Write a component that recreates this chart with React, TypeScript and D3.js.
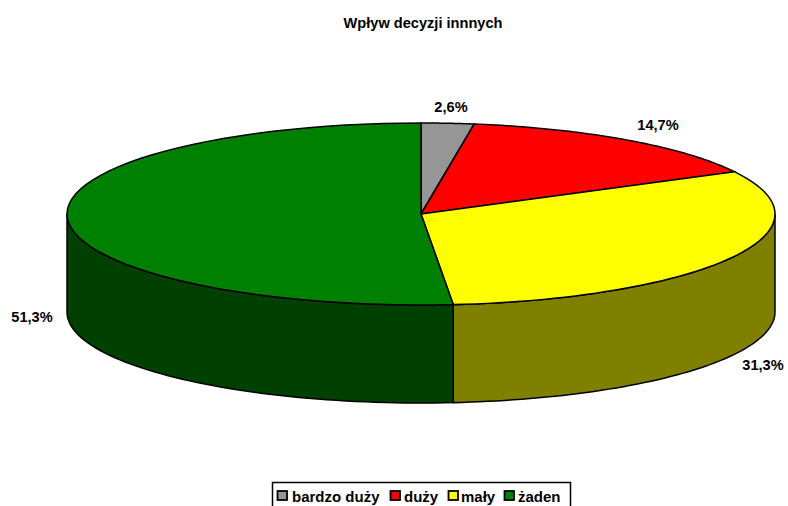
import React from "react";
import * as d3 from "d3";

const categories = ["bardzo duży", "duży", "mały", "żaden"];
const sliceShares = [2.4, 14.9, 31.25, 51.45];
const labels = ["2,6%", "14,7%", "31,3%", "51,3%"];
const topColors = ["#969696", "#ff0000", "#ffff00", "#008000"];
const sideColors = ["#4b4b4b", "#800000", "#808000", "#004000"];
const title = "Wpływ decyzji innnych";
const labelPos: [number, number][] = [[451, 107], [658, 125], [763, 365], [32, 317]];

const cx = 421, cy = 214, rx = 354, ry = 91, depth = 98;
const FONT = "'Liberation Sans', Arial, sans-serif";

const pie = d3.pie<number>().sort(null).value(d => d)(sliceShares);
const px = (a: number) => cx + rx * Math.sin(a);
const py = (a: number) => cy - ry * Math.cos(a);

function topPath(a0: number, a1: number) {
  const pts = d3.range(0, 61).map(i => {
    const a = a0 + (a1 - a0) * (i / 60);
    return [px(a), py(a)] as [number, number];
  });
  return d3.line()([[cx, cy], ...pts]) + "Z";
}
function sidePath(a0: number, a1: number) {
  const s = Math.max(a0, Math.PI / 2);
  const e = Math.min(a1, (3 * Math.PI) / 2);
  if (e <= s) return null;
  const pts = d3.range(0, 61).map(i => {
    const a = s + (e - s) * (i / 60);
    return [px(a), py(a)] as [number, number];
  });
  const low = pts.slice().reverse().map(([x, y]) => [x, y + depth] as [number, number]);
  return d3.line()([...pts, ...low]) + "Z";
}

const legendX = [277.5, 390.5, 448.5, 504.5];
const legendTextX = [292, 404, 461, 518];

export default function App() {
  return (
    <svg width={788} height={506} style={{ position: "absolute", left: 0, top: 0, background: "#fff" }} fontFamily={FONT}>
      <text x={423} y={28} textAnchor="middle" fontSize={14.6} fontWeight="bold">{title}</text>
      {pie.map((d, i) => {
        const p = sidePath(d.startAngle, d.endAngle);
        return p ? <path key={i} d={p} fill={sideColors[i]} stroke="#000" strokeWidth={1.5} /> : null;
      })}
      {pie.map((d, i) => (
        <path key={i} d={topPath(d.startAngle, d.endAngle)} fill={topColors[i]} stroke="#000" strokeWidth={1.5} />
      ))}
      {labels.map((l, i) => (
        <text key={i} x={labelPos[i][0]} y={labelPos[i][1] + 5} textAnchor="middle" fontSize={14.6} fontWeight="bold">{l}</text>
      ))}
      <rect x={272.5} y={482.5} width={298} height={30} fill="#fff" stroke="#000" strokeWidth={1.5} />
      {categories.map((c, i) => (
        <g key={c}>
          <rect x={legendX[i]} y={491} width={9.5} height={9} fill={topColors[i]} stroke="#000" strokeWidth={1.8} />
          <text x={legendTextX[i]} y={502} fontSize={15} fontWeight="bold">{c}</text>
        </g>
      ))}
    </svg>
  );
}
